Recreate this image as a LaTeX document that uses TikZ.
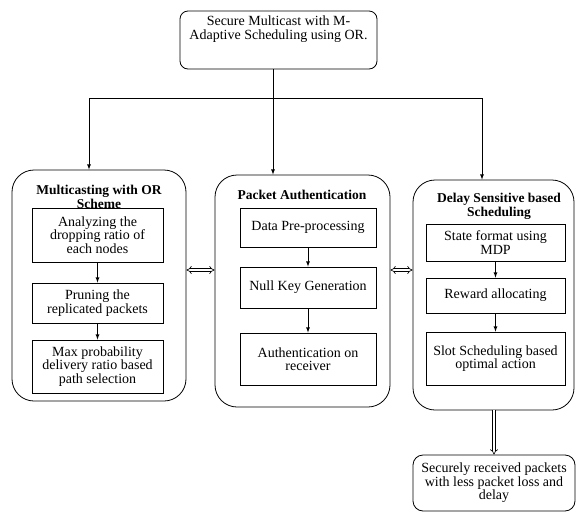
\documentclass[tikz,border=0pt]{standalone}
\usepackage{fontspec}
\setmainfont{Liberation Serif}
\usetikzlibrary{arrows.meta,positioning}
\tikzset{
  >=latex,
  x=1pt, y=-1pt,
}
\tikzstyle{every node}=[font=\fontsize{14}{13.5}\selectfont]
\tikzstyle{group}=[draw, line width=0.8pt, rounded corners=22pt]
\tikzstyle{step box}=[draw, line width=0.8pt, align=center, inner sep=1pt]
\tikzstyle{title}=[font=\fontsize{13.5}{13.5}\selectfont\bfseries, align=center]
\tikzstyle{flow}=[line width=0.8pt,->]
\tikzstyle{hollow}=[double, double distance=2.2pt, line width=0.6pt]

\begin{document}
\begin{tikzpicture}
        \useasboundingbox (0,0) rectangle (576,512);
        \node[draw, line width=0.8pt, rounded corners=8pt, minimum width=197pt, minimum height=58pt] (top) at (278.5,40) {};
        \node[below=2pt of top.north, align=center] (toptext) {Secure Multicast with M-\\Adaptive Scheduling using OR.};
        \node[group, minimum width=174pt, minimum height=231pt] (left) at (99,285.5) {};
        \node[group, minimum width=175pt, minimum height=232pt] (mid) at (302.5,291) {};
        \node[group, minimum width=161pt, minimum height=230pt] (right) at (493.5,295) {};
        \node[title] (lefttitle) at (99,197) {Multicasting with OR\\Scheme};
        \node[title] (midtitle) at (302,195) {Packet Authentication};
        \node[title] (righttitle) at (499,206.5) {Delay Sensitive based\\Scheduling};
        \node[step box, minimum width=131pt, minimum height=54pt] (l1) at (97.5,235) {Analyzing the\\dropping ratio of\\each nodes};
        \node[step box, minimum width=131pt, minimum height=40pt] (l2) at (97.5,303) {Pruning the\\replicated packets};
        \node[step box, minimum width=131pt, minimum height=53pt] (l3) at (97.5,366.5) {Max probability\\delivery ratio based\\path selection};
        \node[step box, minimum width=136pt, minimum height=39pt] (m1) at (308,227.5) {Data Pre-processing};
        \node[step box, minimum width=136pt, minimum height=41pt] (m2) at (308,287.5) {Null Key Generation};
        \node[step box, minimum width=136pt, minimum height=52pt] (m3) at (308,359) {Authentication on\\receiver};
        \node[step box, minimum width=139pt, minimum height=37pt] (r1) at (495.5,242.5) {State format using\\MDP};
        \node[step box, minimum width=139pt, minimum height=35pt] (r2) at (495.5,295.5) {Reward allocating};
        \node[step box, minimum width=139pt, minimum height=53pt] (r3) at (495.5,358.5) {Slot Scheduling based\\optimal action};
        \node[draw, line width=0.8pt, rounded corners=10pt, minimum width=162pt, minimum height=56pt, align=center] (out) at (494,483) {Securely received packets\\with less packet loss and\\delay};
        \coordinate (split) at (273,98);
        \coordinate (lsplit) at (89,98);
        \coordinate (rsplit) at (482,98);
        \draw[line width=0.8pt] (split |- top.south) -- (split);
        \draw[line width=0.8pt] (lsplit) -- (rsplit);
        \draw[flow] (lsplit) -- (lsplit |- left.north);
        \draw[flow] (split) -- (split |- mid.north);
        \draw[flow] (rsplit) -- (rsplit |- right.north);
        \draw[flow] (l1) -- (l2);
        \draw[flow] (l2) -- (l3);
        \draw[flow] (m1) -- (m2);
        \draw[flow] (m2) -- (m3);
        \draw[flow] (r1) -- (r2);
        \draw[flow] (r2) -- (r3);
        \draw[hollow, {Implies}-{Implies}] (left.east |- 0,270) -- (mid.west |- 0,270);
        \draw[hollow, {Implies}-{Implies}] (mid.east |- 0,270) -- (right.west |- 0,270);
        \draw[hollow, -{Implies}] (right.south -| out.north) -- (out.north);
      \end{tikzpicture}
\end{document}
